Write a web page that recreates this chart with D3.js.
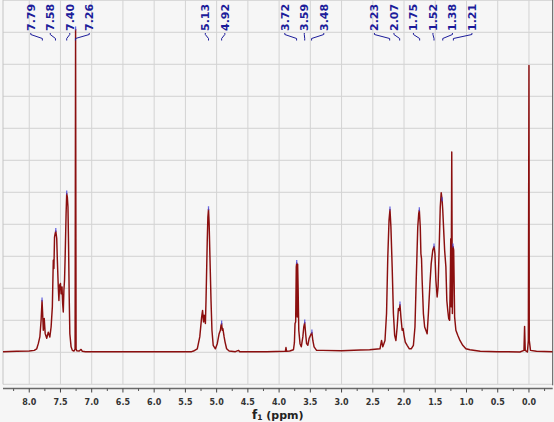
<!DOCTYPE html>
<html>
<head>
<meta charset="utf-8">
<script src="https://cdn.jsdelivr.net/npm/d3@7"></script>
<style>
  body { margin: 0; background: #f6f6f6; }
  svg { display: block; }
</style>
</head>
<body>
<div id="main"></div>
<script>
// spectrum points [ppm, intensity], split by region
const aromatic = [
  [8.42, 0.02], [8.2, 0.03], [8.0, 0.04], [7.92, 0.06], [7.88, 0.11], [7.855, 0.27],
  [7.83, 0.48], [7.81, 1.0], [7.795, 1.62], [7.785, 1.2], [7.775, 0.69], [7.76, 1.06],
  [7.745, 0.59], [7.72, 0.44], [7.695, 0.63], [7.67, 0.48], [7.65, 0.79], [7.63, 1.42],
  [7.615, 2.88], [7.605, 2.62], [7.595, 3.6], [7.585, 3.71], [7.575, 3.79], [7.56, 3.56],
  [7.55, 2.88], [7.535, 2.04], [7.525, 1.62], [7.515, 2.09], [7.5, 2.15], [7.49, 1.83],
  [7.475, 2.04], [7.465, 1.52], [7.455, 1.26], [7.445, 1.94], [7.435, 2.25], [7.425, 2.98],
  [7.41, 4.33], [7.4, 4.96], [7.39, 4.85], [7.38, 4.54], [7.37, 3.29], [7.36, 1.73],
  [7.35, 0.58], [7.33, 0.17], [7.31, 0.06], [7.285, 0.04], [7.266, 0.1], [7.258, 10.09],
  [7.25, 0.1], [7.24, 0.05], [7.2, 0.04], [7.17, 0.09], [7.15, 0.03], [7.1, 0.02]
];
const olefinic = [
  [6.0, 0.02], [5.4, 0.02], [5.37, 0.04], [5.31, 0.11], [5.27, 0.48], [5.24, 1.1],
  [5.225, 1.31], [5.21, 0.95], [5.2, 1.16], [5.18, 0.9], [5.17, 1.62], [5.15, 3.5],
  [5.14, 4.23], [5.13, 4.47], [5.12, 4.02], [5.107, 2.98], [5.09, 1.62], [5.075, 0.69],
  [5.055, 0.22], [5.02, 0.11], [4.99, 0.27], [4.96, 0.58], [4.94, 0.69], [4.93, 0.84],
  [4.92, 0.9], [4.91, 0.69], [4.9, 0.74], [4.88, 0.48], [4.865, 0.32], [4.84, 0.11],
  [4.8, 0.04], [4.7, 0.02], [4.65, 0.06], [4.63, 0.02]
];
const oxygenated = [
  [4.2, 0.02], [3.9, 0.03], [3.89, 0.15], [3.88, 0.03], [3.83, 0.04], [3.77, 0.08],
  [3.755, 0.3], [3.745, 0.9], [3.735, 0.95], [3.725, 2.67], [3.718, 2.79], [3.71, 1.1],
  [3.703, 2.75], [3.695, 1.94], [3.685, 0.69], [3.665, 0.27], [3.645, 0.17], [3.62, 0.48],
  [3.605, 0.79], [3.59, 0.93], [3.575, 0.58], [3.56, 0.27], [3.54, 0.22], [3.52, 0.43],
  [3.49, 0.56], [3.475, 0.62], [3.46, 0.37], [3.44, 0.17], [3.4, 0.06], [3.3, 0.06],
  [3.0, 0.05], [2.7, 0.07], [2.55, 0.08]
];
const aliphatic = [
  [2.385, 0.11], [2.36, 0.37], [2.34, 0.17], [2.305, 0.37], [2.28, 1.21], [2.26, 2.98],
  [2.24, 4.13], [2.225, 4.46], [2.21, 3.92], [2.19, 2.67], [2.17, 1.21], [2.15, 0.53],
  [2.13, 0.37], [2.11, 0.79], [2.09, 1.37], [2.075, 1.31], [2.065, 1.49], [2.05, 1.1],
  [2.03, 0.69], [2.015, 0.74], [2.0, 0.53], [1.98, 0.32], [1.95, 0.22], [1.915, 0.11],
  [1.885, 0.11], [1.85, 0.22], [1.825, 0.79], [1.805, 2.25], [1.78, 3.92], [1.765, 4.33],
  [1.755, 4.44], [1.74, 3.92], [1.73, 3.08], [1.72, 2.93], [1.71, 2.25], [1.69, 1.21],
  [1.67, 0.79], [1.65, 0.69], [1.63, 0.58], [1.61, 1.21], [1.585, 2.15], [1.565, 2.77],
  [1.54, 3.19], [1.52, 3.31], [1.505, 3.08], [1.49, 2.25], [1.47, 1.73], [1.455, 2.04],
  [1.44, 3.08], [1.42, 4.54], [1.405, 4.99], [1.39, 4.75], [1.38, 4.44], [1.36, 3.6],
  [1.35, 3.19], [1.33, 2.67], [1.315, 1.62], [1.3, 1.31], [1.285, 1.05], [1.27, 1.0],
  [1.258, 2.46], [1.252, 3.55], [1.246, 1.42], [1.236, 6.26], [1.226, 1.21], [1.216, 3.31],
  [1.205, 3.19], [1.19, 1.1], [1.17, 0.69], [1.14, 0.53], [1.105, 0.37], [1.06, 0.22],
  [1.01, 0.11], [0.945, 0.08], [0.78, 0.03]
];
const reference = [
  [0.5, 0.02], [0.145, 0.01], [0.08, 0.06], [0.07, 0.81], [0.06, 0.06], [0.025, 0.01],
  [0.01, 0.37], [0.0, 8.96], [-0.005, 0.37], [-0.025, 0.06], [-0.12, 0.03], [-0.38, 0.02]
];
// picked peaks (ppm) shown on top
const peakLabels = [7.79, 7.58, 7.40, 7.26, 5.13, 4.92, 3.72, 3.59, 3.48, 2.23, 2.07, 1.75, 1.52, 1.38, 1.21];
// axis ticks
const majorTicks = [8.0, 7.5, 7.0, 6.5, 6.0, 5.5, 5.0, 4.5, 4.0, 3.5, 3.0, 2.5, 2.0, 1.5, 1.0, 0.5, 0.0];
const minorTicks = [8.25, 7.75, 7.25, 6.75, 6.25, 5.75, 5.25, 4.75, 4.25, 3.75, 3.25, 2.75, 2.25, 1.75, 1.25, 0.75, 0.25, -0.25];
const gridRows = [-1, 0, 1, 2, 3, 4, 5, 6, 7, 8, 9, 10, 11];

function main() {
  const width = 554;
  const height = 422;
  const left = 3;
  const right = 552.7;
  const top = 0.3;
  const bottom = 384.3;
  const axisY = 388.5;
  const labelGap = 19.5; // spacing between peak labels
  const navy = '#1c1c9a';
  const spectrum = [].concat(aromatic, olefinic, oxygenated, aliphatic, reference);

  const x = d3.scaleLinear().domain([8.42, -0.38]).range([left, right]);
  const y = d3.scaleLinear().domain([-1, 11]).range([bottom, top]);

  const svg = d3.select('#main')
    .append('svg')
    .attr('width', width)
    .attr('height', height);

  svg.append('rect')
    .attr('width', width)
    .attr('height', height)
    .attr('fill', '#f6f6f6');

  svg.append('defs')
    .append('clipPath')
    .attr('id', 'plot')
    .append('rect')
    .attr('x', left)
    .attr('y', 0)
    .attr('width', right - left)
    .attr('height', bottom);

  // grid
  const grid = svg.append('g').attr('stroke', '#d3d3d3').attr('stroke-width', 1);
  grid.selectAll('line.h')
    .data(gridRows)
    .enter()
    .append('line')
    .attr('x1', left)
    .attr('x2', right)
    .attr('y1', d => y(d))
    .attr('y2', d => y(d));
  grid.selectAll('line.v')
    .data(majorTicks)
    .enter()
    .append('line')
    .attr('x1', d => x(d))
    .attr('x2', d => x(d))
    .attr('y1', 0)
    .attr('y2', bottom);

  // frame edges
  svg.append('line')
    .attr('x1', left).attr('x2', left)
    .attr('y1', 0).attr('y2', bottom)
    .attr('stroke', '#c4c4c4');
  svg.append('line')
    .attr('x1', right).attr('x2', right)
    .attr('y1', 0).attr('y2', bottom + 1)
    .attr('stroke', '#555');

  // spectrum trace
  const line = d3.line()
    .x(d => x(d[0]))
    .y(d => y(d[1]));
  svg.append('path')
    .datum(spectrum)
    .attr('clip-path', 'url(#plot)')
    .attr('fill', 'none')
    .attr('stroke', '#8b0f0f')
    .attr('stroke-width', 1.45)
    .attr('stroke-linejoin', 'round')
    .attr('d', line);

  // peak tops for the picked peaks
  const peaks = peakLabels.map(p => {
    const near = spectrum.filter(d => Math.abs(d[0] - p) <= 0.012);
    const best = near.reduce((a, b) => (b[1] > a[1] ? b : a));
    return { ppm: p, px: x(p), topX: x(best[0]), topY: y(best[1]) };
  });

  svg.append('g')
    .selectAll('line')
    .data(peaks)
    .enter()
    .append('line')
    .attr('x1', d => d.topX)
    .attr('x2', d => d.topX)
    .attr('y1', d => d.topY - 3)
    .attr('y2', d => d.topY + 1)
    .attr('stroke', 'rgba(70,70,220,0.8)')
    .attr('stroke-width', 1.3);

  // spread labels: overlapping ones are centred as a group on their peaks
  let groups = [];
  peaks.forEach(p => {
    groups.push([p]);
    while (groups.length > 1) {
      const g = groups[groups.length - 1];
      const h = groups[groups.length - 2];
      const start = grp => d3.mean(grp, d => d.px) - (grp.length - 1) * labelGap / 2;
      const hEnd = start(h) + (h.length - 1) * labelGap;
      if (start(g) - hEnd < labelGap) {
        groups.splice(groups.length - 2, 2, h.concat(g));
      } else break;
    }
  });
  groups.forEach(grp => {
    const s = d3.mean(grp, d => d.px) - (grp.length - 1) * labelGap / 2;
    grp.forEach((d, i) => { d.lx = s + i * labelGap; });
  });

  const labels = svg.append('g');
  labels.selectAll('path')
    .data(peaks)
    .enter()
    .append('path')
    .attr('d', d => `M${d.lx},33 L${d.lx},34.5 L${d.px},38.5 L${d.px},40.5`)
    .attr('fill', 'none')
    .attr('stroke', navy)
    .attr('stroke-width', 1);
  labels.selectAll('text')
    .data(peaks)
    .enter()
    .append('text')
    .attr('transform', d => `translate(${d.lx},31) rotate(-90)`)
    .attr('dy', '0.36em')
    .attr('font-family', 'DejaVu Sans, sans-serif')
    .attr('font-weight', 'bold')
    .attr('font-size', 11)
    .attr('fill', navy)
    .text(d => d.ppm.toFixed(2));

  // x axis
  svg.append('line')
    .attr('x1', left).attr('x2', right)
    .attr('y1', axisY).attr('y2', axisY)
    .attr('stroke', '#6a6a6a')
    .attr('stroke-width', 1.3);
  svg.append('g')
    .selectAll('line')
    .data(majorTicks)
    .enter()
    .append('line')
    .attr('x1', d => x(d)).attr('x2', d => x(d))
    .attr('y1', axisY).attr('y2', axisY + 4)
    .attr('stroke', '#444');
  svg.append('g')
    .selectAll('line')
    .data(minorTicks)
    .enter()
    .append('line')
    .attr('x1', d => x(d)).attr('x2', d => x(d))
    .attr('y1', axisY).attr('y2', axisY + 2.5)
    .attr('stroke', '#555');
  svg.append('g')
    .selectAll('text')
    .data(majorTicks)
    .enter()
    .append('text')
    .attr('x', d => x(d))
    .attr('y', 405)
    .attr('text-anchor', 'middle')
    .attr('font-family', 'DejaVu Sans, sans-serif')
    .attr('font-weight', 'bold')
    .attr('font-size', 8)
    .attr('fill', '#333')
    .text(d => d.toFixed(1));

  const title = svg.append('text')
    .attr('x', (left + right) / 2)
    .attr('y', 419)
    .attr('text-anchor', 'middle')
    .attr('font-family', 'DejaVu Sans, sans-serif')
    .attr('font-weight', 'bold')
    .attr('font-size', 11)
    .attr('fill', '#222');
  title.append('tspan').attr('font-size', 12).text('f');
  title.append('tspan').attr('font-size', 7.5).attr('dy', 1).text('1');
  title.append('tspan').attr('dy', -1).text(' (ppm)');
}

document.addEventListener('DOMContentLoaded', main);
</script>
</body>
</html>
